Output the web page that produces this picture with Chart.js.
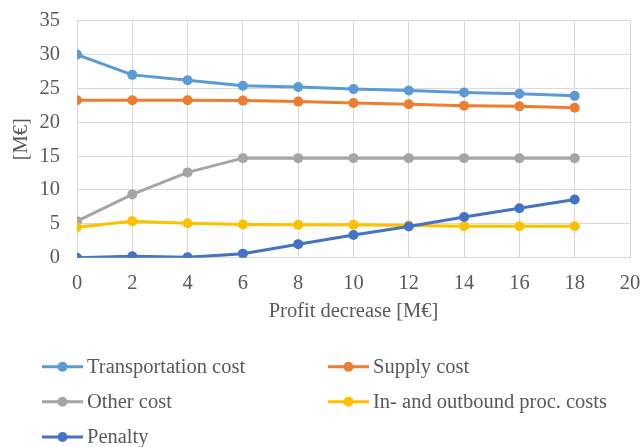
<!DOCTYPE html>
<html>
<head>
<meta charset="utf-8">
<script src="https://cdn.jsdelivr.net/npm/chart.js@4/dist/chart.umd.min.js"></script>
<style>
  html, body { margin: 0; padding: 0; background: #fff; }
  #wrap { width: 641px; height: 447px; position: relative; }
</style>
</head>
<body>
<div id="wrap"><canvas id="c" width="641" height="447"></canvas></div>
<script>
// Profit decrease steps [M€]
const profitDecrease = [0, 2, 4, 6, 8, 10, 12, 14, 16, 18];

// Cost components [M€]
const transportationCost = [30.0, 27.0, 26.2, 25.4, 25.2, 24.9, 24.7, 24.4, 24.2, 23.9];
const supplyCost         = [23.25, 23.25, 23.25, 23.2, 23.05, 22.85, 22.65, 22.45, 22.35, 22.15];
const otherCost          = [5.4, 9.35, 12.6, 14.7, 14.7, 14.7, 14.7, 14.7, 14.7, 14.7];
const inOutboundCosts    = [4.5, 5.4, 5.1, 4.9, 4.85, 4.85, 4.75, 4.65, 4.65, 4.65];
const penalty            = [0.0, 0.2, 0.05, 0.6, 2.0, 3.35, 4.6, 6.0, 7.3, 8.6];

const seriesNames  = ['Transportation cost', 'Supply cost', 'Other cost', 'In- and outbound proc. costs', 'Penalty'];
const seriesValues = [transportationCost, supplyCost, otherCost, inOutboundCosts, penalty];
const seriesColors = ['#5B9BD5', '#ED7D31', '#A5A5A5', '#FFC000', '#4472C4'];

const FONT = '"Liberation Serif", "Times New Roman", serif';
const FONT_SIZE = 20.5;
const TEXT = '#595959';
const GRID = '#d9d9d9';

const datasets = seriesNames.map((name, i) => ({
  label: name,
  data: profitDecrease.map((x, j) => ({ x: x, y: seriesValues[i][j] })),
  borderColor: seriesColors[i],
  backgroundColor: seriesColors[i],
  pointBackgroundColor: seriesColors[i],
  pointBorderColor: seriesColors[i],
  borderWidth: 3,
  pointRadius: 5,
  pointBorderWidth: 0,
  tension: 0,
  // later series are painted over earlier ones
  order: seriesNames.length - i
}));

// Legend drawn below the plot: two columns, line-with-marker swatches
const bottomLegend = {
  id: 'bottomLegend',
  afterDraw(chart) {
    const ctx = chart.ctx;
    const cols = [42, 328];
    const rows = [366.7, 401.7, 437];
    ctx.save();
    ctx.font = FONT_SIZE + 'px ' + FONT;
    ctx.textBaseline = 'middle';
    ctx.textAlign = 'left';
    seriesNames.forEach((name, i) => {
      const x = cols[i % 2];
      const y = rows[Math.floor(i / 2)];
      ctx.strokeStyle = seriesColors[i];
      ctx.lineWidth = 3;
      ctx.beginPath();
      ctx.moveTo(x, y);
      ctx.lineTo(x + 41, y);
      ctx.stroke();
      ctx.fillStyle = seriesColors[i];
      ctx.beginPath();
      ctx.arc(x + 20.5, y, 5, 0, Math.PI * 2);
      ctx.fill();
      ctx.fillStyle = TEXT;
      ctx.fillText(name, x + 45, y + 1);
    });
    ctx.restore();
  }
};

new Chart(document.getElementById('c'), {
  type: 'line',
  data: { datasets: datasets },
  plugins: [bottomLegend],
  options: {
    responsive: false,
    animation: false,
    layout: { padding: { top: 20.7, right: 11, bottom: 119.3, left: 0 } },
    plugins: {
      legend: { display: false },
      tooltip: { enabled: false }
    },
    scales: {
      x: {
        type: 'linear',
        min: 0,
        max: 20,
        ticks: { stepSize: 2, color: TEXT, font: { family: FONT, size: FONT_SIZE }, padding: 14, maxRotation: 0 },
        grid: { color: GRID, lineWidth: 1, drawTicks: false },
        border: { color: GRID },
        title: { display: true, text: 'Profit decrease [M€]', color: TEXT, font: { family: FONT, size: FONT_SIZE }, padding: { top: 0, bottom: 4 } },
        afterFit(scale) {
          scale.height = 70;
          scale.paddingLeft = 0;
          scale.paddingRight = 0;
        }
      },
      y: {
        min: 0,
        max: 35,
        ticks: { stepSize: 5, color: TEXT, font: { family: FONT, size: FONT_SIZE }, padding: 17 },
        grid: { color: GRID, lineWidth: 1, drawTicks: false },
        border: { color: GRID },
        title: { display: true, text: '[M€]', color: TEXT, font: { family: FONT, size: FONT_SIZE }, padding: { top: 9, bottom: 0 } },
        afterFit(scale) {
          scale.width = 77;
          scale.paddingTop = 0;
          scale.paddingBottom = 0;
        }
      }
    }
  }
});
</script>
</body>
</html>
